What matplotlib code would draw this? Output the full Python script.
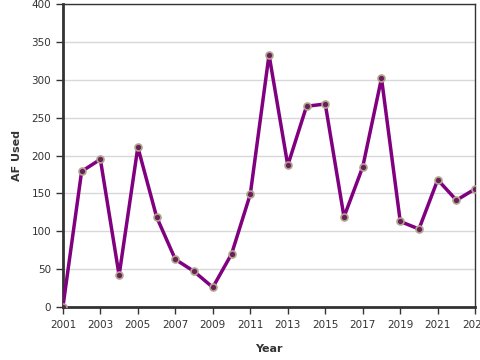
import numpy as np
import matplotlib.pyplot as plt

# yearly values
years = np.arange(2001, 2024)
af_used = [0, 179, 195, 42, 211, 119, 63, 47, 26, 70, 149, 333, 187, 265, 268,
           119, 185, 302, 113, 103, 168, 141, 156]

xticks = np.arange(2001, 2024, 2)
yticks = np.arange(0, 401, 50)

fig = plt.figure(figsize=(4.8, 3.6), dpi=100)
ax = fig.add_axes([0.131, 0.147, 0.859, 0.842])

ax.plot(years, af_used, color="#800080", lw=2.5, zorder=3,
        marker="o", ms=5, mfc="#6b1f5a", mec="#b0a58c", mew=1.2)

ax.set_xlim(2001, 2023)
ax.set_ylim(0, 400)
ax.set_xticks(xticks)
ax.set_yticks(yticks)
ax.grid(axis="y", color="#d8d8d8", lw=1)
ax.set_axisbelow(True)

for s in ["left", "bottom"]:
    ax.spines[s].set_linewidth(2)
    ax.spines[s].set_color("#333333")
for s in ["top", "right"]:
    ax.spines[s].set_linewidth(1)
    ax.spines[s].set_color("#333333")

ax.tick_params(labelsize=7.5, colors="#333333", length=5, width=1)
ax.tick_params(axis="x", pad=4.5)
ax.set_xlabel("Year", fontsize=8, fontweight="bold", color="#333333", labelpad=10)
ax.set_ylabel("AF Used", fontsize=8, fontweight="bold", color="#333333", labelpad=7)

fig.savefig("out.png", dpi=100)
